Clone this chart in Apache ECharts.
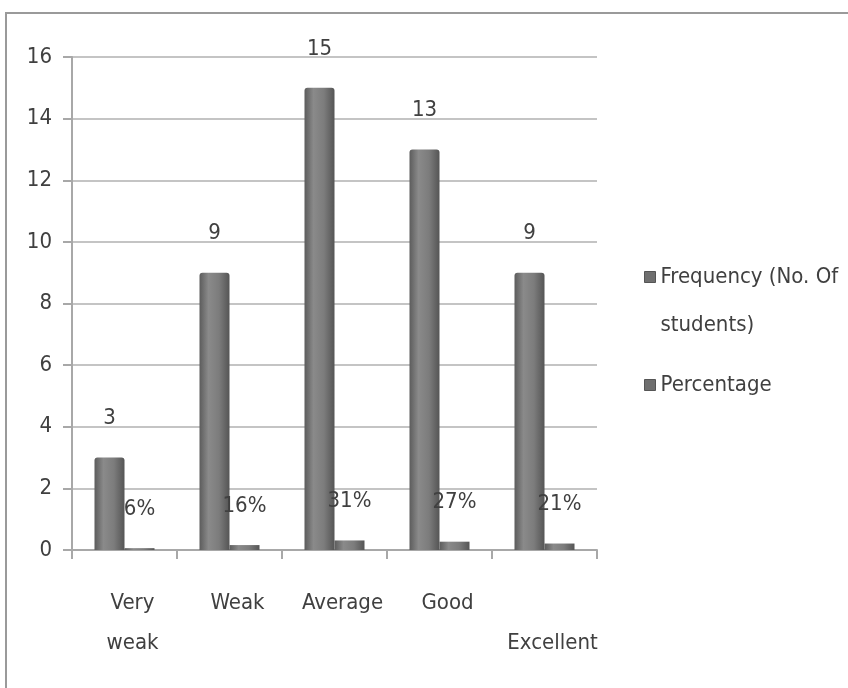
<!DOCTYPE html>
<html>
<head>
<meta charset="utf-8">
<script src="https://cdn.jsdelivr.net/npm/echarts@6/dist/echarts.min.js"></script>
<style>
  html, body { margin: 0; padding: 0; background: #fff; }
  #chart { width: 848px; height: 688px; }
</style>
</head>
<body>
<div id="chart"></div>
<script>
// Student performance groups
const categories = ['Very weak', 'Weak', 'Average', 'Good', 'Excellent'];
// Number of students in each group
const frequency = [3, 9, 15, 13, 9];
// Share of students, as a fraction of the class
const percentage = [0.06, 0.16, 0.31, 0.27, 0.21];
// Value axis tick range
const yTicks = { min: 0, max: 16, step: 2 };

const FONT = "'Liberation Sans Narrow', 'DejaVu Sans Condensed', 'Open Sans', sans-serif";

// Rounded "cylinder" fill used by both series
const barFill = {
  type: 'linear', x: 0, y: 0, x2: 1, y2: 0,
  colorStops: [
    { offset: 0, color: '#5c5c5c' },
    { offset: 0.3, color: '#8a8a8a' },
    { offset: 0.65, color: '#7c7c7c' },
    { offset: 1, color: '#555555' }
  ]
};

const categoryLabel = (name) => {
  if (name === 'Very weak') return 'Very\nweak';
  if (name === 'Excellent') return '\nExcellent';
  return name;
};

const FREQ = 'Frequency (No. Of students)';
const legendIcon = { color: '#6f6f6f', borderColor: '#555', borderWidth: 1 };

const chart = echarts.init(document.getElementById('chart'));
chart.setOption({
  backgroundColor: '#ffffff',
  animation: false,
  textStyle: { fontFamily: FONT },
  graphic: [{
    type: 'rect',
    shape: { x: 6, y: 13, width: 900, height: 720 },
    style: { fill: 'none', stroke: '#9a9a9a', lineWidth: 2 },
    silent: true
  }],
  grid: { left: 72, right: 251, top: 57, bottom: 138 },
  legend: {
    orient: 'vertical',
    left: 644,
    top: 205,
    padding: 0,
    itemWidth: 11,
    itemHeight: 11,
    itemGap: 21,
    icon: 'rect',
    textStyle: { fontFamily: FONT, fontSize: 22, color: '#404040' },
    data: [
      { name: FREQ, itemStyle: legendIcon, textStyle: { lineHeight: 48 } },
      { name: 'Percentage', itemStyle: legendIcon, textStyle: { lineHeight: 30 } }
    ],
    // leading empty line keeps the first text line level with the swatch
    formatter: (n) => n === FREQ ? '\nFrequency (No. Of\nstudents)' : n
  },
  xAxis: {
    type: 'category',
    data: categories,
    axisLine: { lineStyle: { color: '#a8a8a8', width: 2 } },
    axisTick: { show: true, length: 9, alignWithLabel: false, lineStyle: { color: '#a8a8a8', width: 2 } },
    axisLabel: {
      interval: 0,
      margin: 33,
      padding: [0, 0, 0, 16],
      fontFamily: FONT,
      fontSize: 22,
      lineHeight: 40,
      color: '#404040',
      formatter: categoryLabel
    }
  },
  yAxis: {
    type: 'value',
    min: yTicks.min,
    max: yTicks.max,
    interval: yTicks.step,
    axisLine: { show: true, lineStyle: { color: '#a8a8a8', width: 2 } },
    axisTick: { show: true, length: 9, lineStyle: { color: '#a8a8a8', width: 2 } },
    axisLabel: { margin: 20, fontFamily: FONT, fontSize: 22, color: '#404040' },
    splitLine: { lineStyle: { color: '#c4c4c4', width: 2 } }
  },
  series: [
    {
      name: FREQ,
      type: 'bar',
      data: frequency,
      barWidth: 30,
      barGap: '0%',
      itemStyle: { color: barFill, borderRadius: [3, 3, 0, 0] },
      label: {
        show: true, position: 'top', distance: 28,
        fontFamily: FONT, fontSize: 22, color: '#404040'
      }
    },
    {
      name: 'Percentage',
      type: 'bar',
      data: percentage,
      barWidth: 30,
      itemStyle: { color: barFill },
      label: {
        show: true, position: 'top', distance: 28,
        fontFamily: FONT, fontSize: 22, color: '#404040',
        formatter: (p) => Math.round(p.value * 100) + '%'
      }
    }
  ]
});
</script>
</body>
</html>
